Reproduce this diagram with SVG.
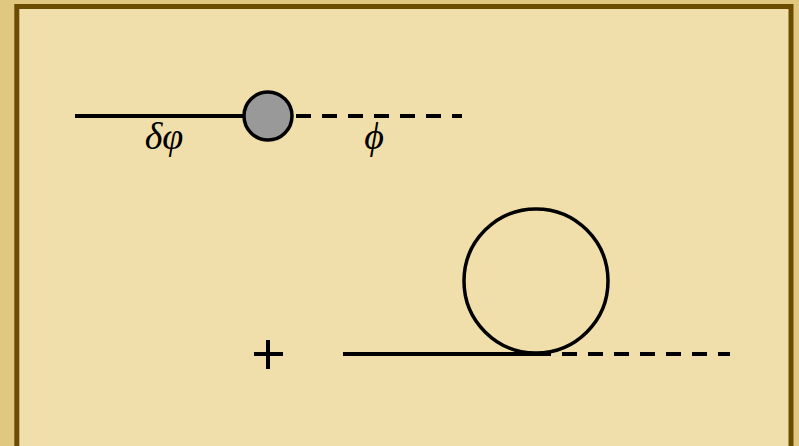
<svg xmlns="http://www.w3.org/2000/svg" width="799" height="446" viewBox="0 0 799 446">
<style>
.ln{stroke:#000;stroke-width:4;fill:none}
.dash{stroke:#000;stroke-width:4;fill:none;stroke-dasharray:15 11}
.lbl{font-family:"Liberation Serif","DejaVu Serif",serif;font-style:italic;font-size:38px;fill:#000;text-anchor:middle}
</style>
<rect x="0" y="0" width="799" height="446" fill="#e0c880"/>
<rect x="16.8" y="6.5" width="774.2" height="460" fill="#f1dfab" stroke="#6b4c00" stroke-width="5"/>
<g id="connectors">
<line class="ln" x1="75" y1="116" x2="246" y2="116"/>
<line class="dash" x1="296" y1="116" x2="462" y2="116"/>
<line class="ln" x1="343" y1="354" x2="551" y2="354"/>
<line class="dash" x1="562" y1="354" x2="730" y2="354"/>
</g>
<g id="vertex">
<circle cx="268" cy="116" r="24" fill="#999999" stroke="#000" stroke-width="3.5"/>
</g>
<g id="loop">
<circle cx="536" cy="281" r="72" fill="none" stroke="#000" stroke-width="3.5"/>
</g>
<g id="plus">
<line class="ln" x1="254" y1="354" x2="283" y2="354"/>
<line class="ln" x1="268" y1="340" x2="268" y2="369"/>
</g>
<g id="labels">
<text class="lbl" x="164" y="149">δφ</text>
<text class="lbl" x="374" y="149">ϕ</text>
</g>
</svg>
